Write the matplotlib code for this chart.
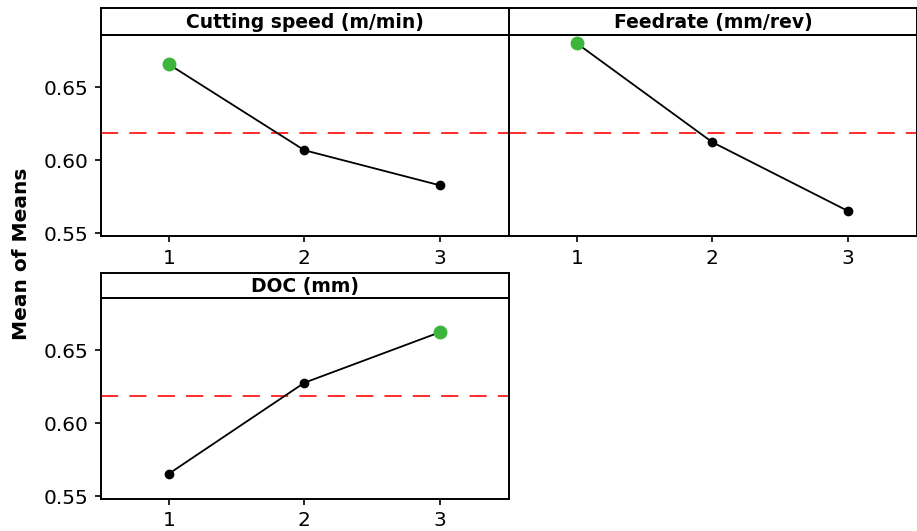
import numpy as np
import matplotlib.pyplot as plt

levels = [1, 2, 3]
factors = ["Cutting speed (m/min)", "Feedrate (mm/rev)", "DOC (mm)"]
cutting_speed = [0.6659, 0.6069, 0.5828]
feedrate = [0.6803, 0.6124, 0.5652]
doc = [0.5653, 0.6278, 0.6625]
grand_mean = 0.6185
yticks = [0.55, 0.60, 0.65]

series = [cutting_speed, feedrate, doc]

W, H = 917, 531
fig = plt.figure(figsize=(W / 100, H / 100), dpi=100)

# panel boxes in pixels: (left, right, header top, header bottom, plot bottom)
boxes = [(101, 509, 8, 35, 236),
         (509, 917, 8, 35, 236),
         (101, 509, 273, 298, 499)]

green = "#3db53d"

for i, (name, vals) in enumerate(zip(factors, series)):
    l, r, ht, hb, pb = boxes[i]
    ax = fig.add_axes([l / W, 1 - pb / H, (r - l) / W, (pb - hb) / H])
    hax = fig.add_axes([l / W, 1 - hb / H, (r - l) / W, (hb - ht) / H])

    ax.axhline(grand_mean, color="#ff1a1a", lw=1.3, dashes=(9.5, 6.2), zorder=1)
    ax.plot(levels, vals, color="black", lw=1.3, zorder=2)
    best = int(np.argmax(vals))
    for j, v in enumerate(vals):
        if j == best:
            ax.plot(levels[j], v, "o", color=green, ms=9, zorder=3)
        else:
            ax.plot(levels[j], v, "o", color="black", ms=6, zorder=3)

    ax.set_xlim(0.5, 3.51)
    ax.set_ylim(0.548, 0.686)
    ax.set_xticks(levels)
    ax.set_yticks(yticks)
    ax.set_yticklabels([f"{t:.2f}" for t in yticks])
    ax.tick_params(labelsize=14.5, length=4, width=1.2, pad=5)
    if i == 1:
        ax.tick_params(axis="y", left=False, labelleft=False)
    for s in ax.spines.values():
        s.set_linewidth(1.4)

    hax.set_xticks([])
    hax.set_yticks([])
    for s in hax.spines.values():
        s.set_linewidth(1.4)
    hax.text(0.5, 0.45, name, ha="center", va="center", fontsize=13.5,
             fontweight="bold", transform=hax.transAxes)

fig.text(22 / W, 1 - 254 / H, "Mean of Means", rotation=90, ha="center",
         va="center", fontsize=14.5, fontweight="bold")

fig.savefig("out.png", dpi=100)
